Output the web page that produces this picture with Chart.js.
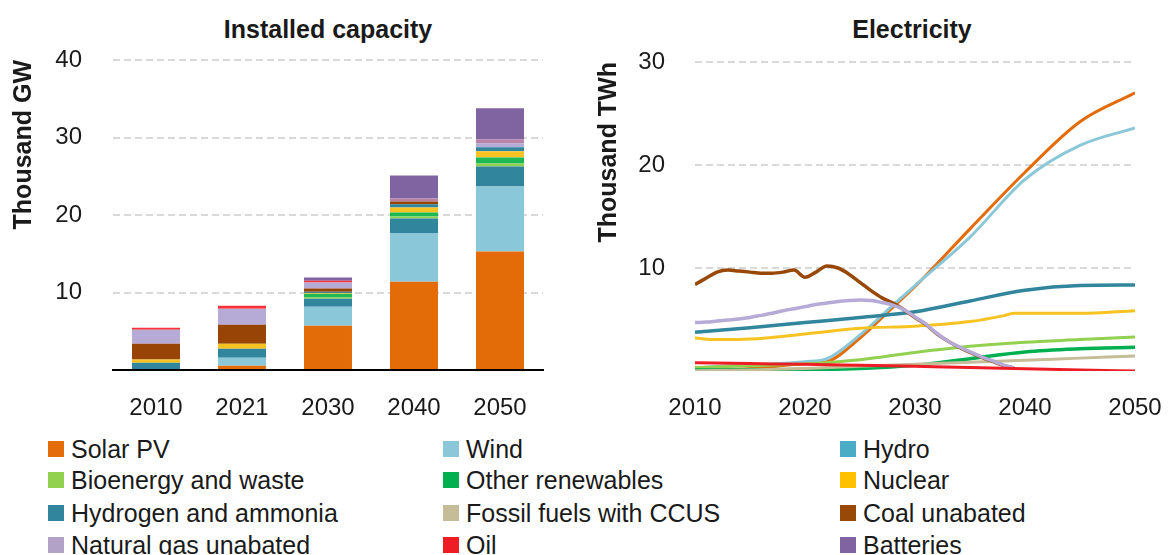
<!DOCTYPE html>
<html>
<head>
<meta charset="utf-8">
<script src="https://cdn.jsdelivr.net/npm/chart.js@4.4.1/dist/chart.umd.min.js"></script>
<style>
    body { margin: 0; width: 1168px; height: 555px; overflow: hidden; background: #fff; font-family: "Liberation Sans", Arial, sans-serif; color: #1a1a1a; }
    canvas { position: absolute; top: 0; }
    #capacityChart { left: 0; }
    #electricityChart { left: 580px; }
    .panel-title { position: absolute; top: 15px; font-weight: bold; font-size: 25px; transform: translateX(-50%); white-space: nowrap; }
    .legend-item { position: absolute; display: flex; align-items: center; font-size: 25px; white-space: nowrap; }
    .legend-item .swatch { width: 16px; height: 16px; margin-right: 7px; }
</style>
</head>
<body>
<div class="panel-title" style="left:328px">Installed capacity</div>
<div class="panel-title" style="left:912px">Electricity</div>
<canvas id="capacityChart" width="560" height="420"></canvas>
<canvas id="electricityChart" width="588" height="420"></canvas>
<div id="legend"></div>
<script>
"use strict";
// Installed capacity (thousand GW), stacked bottom to top
const capacityYears = ['2010', '2021', '2030', '2040', '2050'];
const capSolar = [0, 0.56, 5.72, 11.4, 15.3];
const capWind = [0, 1.03, 2.45, 6.2, 8.39];
const capHydro = [0.95, 1.16, 1.03, 1.94, 2.58];
const capBio = [0, 0, 0.17, 0.26, 0.39];
const capOtherRen = [0, 0, 0.43, 0.52, 0.77];
const capNuclear = [0.39, 0.65, 0.1, 0.65, 0.8];
const capHydrogen = [0, 0, 0.2, 0.43, 0.52];
const capCoal = [2.06, 2.45, 0.43, 0.34, 0];
const capGas = [1.8, 2.06, 0.77, 0, 0.52];
const capOtherFossil = [0, 0, 0, 0.39, 0.52];
const capOil = [0.26, 0.39, 0.22, 0, 0];
const capBatteries = [0, 0, 0.43, 2.97, 4.0];
const capacityTicks = [10, 20, 30, 40];

// Electricity generation (thousand TWh)
const yearsRenew = [2010, 2015, 2020, 2022, 2025, 2028, 2030, 2035, 2040, 2045, 2050];
const genSolar = [0.03, 0.25, 0.7, 0.9, 3.2, 6.2, 8.2, 13.8, 19.3, 24.2, 27.0];
const genWind = [0.3, 0.6, 0.9, 1.2, 3.5, 6.4, 8.3, 13.0, 18.6, 21.9, 23.6];
const yearsFive = [2010, 2015, 2020, 2025, 2030, 2035, 2040, 2045, 2050];
const genHydro = [3.75, 4.2, 4.7, 5.2, 5.75, 6.8, 7.85, 8.3, 8.35];
const genBio = [0.35, 0.5, 0.7, 1.1, 1.8, 2.4, 2.8, 3.05, 3.3];
const genOtherRen = [0.1, 0.12, 0.15, 0.25, 0.55, 1.2, 1.85, 2.15, 2.3];
const genCcus = [0.02, 0.1, 0.25, 0.45, 0.65, 0.85, 1.05, 1.25, 1.45];
const genOil = [0.8, 0.72, 0.65, 0.55, 0.45, 0.35, 0.22, 0.1, 0.0];
const yearsNuclear = [2010, 2012, 2015, 2020, 2025, 2030, 2035, 2038, 2039, 2045, 2050];
const genNuclear = [3.2, 3.05, 3.1, 3.6, 4.15, 4.35, 4.8, 5.35, 5.6, 5.6, 5.85];
const yearsFossil = [2010, 2011, 2012, 2013, 2014, 2015, 2016, 2017, 2018, 2019, 2020, 2021, 2022, 2023, 2024,
    2025, 2026, 2027, 2028, 2029, 2030, 2031, 2032, 2033, 2034, 2035, 2036, 2037, 2038, 2039];
const genCoal = [8.4, 9.0, 9.6, 9.8, 9.7, 9.6, 9.5, 9.5, 9.6, 9.8, 9.1, 9.6, 10.2, 10.0, 9.4,
    8.6, 7.8, 7.1, 6.6, 5.95, 5.2, 4.5, 3.6, 2.9, 2.3, 1.8, 1.35, 0.95, 0.55, 0.3];
const genGas = [4.7, 4.75, 4.85, 4.95, 5.05, 5.2, 5.4, 5.6, 5.85, 6.05, 6.25, 6.45, 6.6, 6.75, 6.85,
    6.9, 6.85, 6.65, 6.4, 5.95, 5.25, 4.55, 3.65, 2.9, 2.35, 1.85, 1.4, 1.0, 0.6, 0.3];
const electricityTicks = [10, 20, 30];

const legendItems = [
    ['Solar PV', '#e46c0a'], ['Wind', '#8bc7d9'], ['Hydro', '#4bacc6'],
    ['Bioenergy and waste', '#92d050'], ['Other renewables', '#00b050'], ['Nuclear', '#ffc000'],
    ['Hydrogen and ammonia', '#31859c'], ['Fossil fuels with CCUS', '#c4bd97'], ['Coal unabated', '#984807'],
    ['Natural gas unabated', '#b3a2c7'], ['Oil', '#ee1c25'], ['Batteries', '#8064a2']
];

const TEXT = '#1a1a1a';
const GRID = '#d9d9d9';

class EnergyCharts {
    constructor() {
        this.capacityChart = null;
        this.electricityChart = null;
    }
    init() {
        Chart.defaults.font.family = '"Liberation Sans", Arial, sans-serif';
        Chart.defaults.color = TEXT;
        this.renderCapacity();
        this.renderElectricity();
        this.renderLegend();
    }
    yGrid() {
        return {
            color: (ctx) => (ctx.tick && ctx.tick.value === 0 ? 'rgba(0,0,0,0)' : GRID),
            lineWidth: 2,
            drawTicks: false
        };
    }
    renderCapacity() {
        const series = [
            ['Solar PV', capSolar, '#e36c09'],
            ['Wind', capWind, '#8ac8d9'],
            ['Hydro', capHydro, '#31859c'],
            ['Bioenergy and waste', capBio, '#92d050'],
            ['Other renewables', capOtherRen, '#1db954'],
            ['Nuclear', capNuclear, '#f6c323'],
            ['Hydrogen and ammonia', capHydrogen, '#31859c'],
            ['Coal unabated', capCoal, '#994407'],
            ['Natural gas unabated', capGas, '#b6aad6'],
            ['Other fossil', capOtherFossil, '#b784a7'],
            ['Oil', capOil, '#fb3338'],
            ['Batteries', capBatteries, '#8064a2']
        ];
        const ctx = document.getElementById('capacityChart');
        this.capacityChart = new Chart(ctx, {
            type: 'bar',
            data: {
                labels: capacityYears,
                datasets: series.map(([label, data, color]) => ({
                    label,
                    data,
                    backgroundColor: color,
                    borderWidth: 0,
                    barPercentage: 1,
                    categoryPercentage: 0.558
                }))
            },
            options: {
                responsive: false,
                animation: false,
                devicePixelRatio: 1,
                layout: { padding: { top: 60, right: 17, left: 0, bottom: 0 } },
                plugins: { legend: { display: false }, tooltip: { enabled: false } },
                scales: {
                    x: {
                        stacked: true,
                        grid: { display: false },
                        border: { display: true, color: '#000', width: 2 },
                        ticks: { padding: 16, font: { size: 24 }, color: TEXT },
                        afterFit: (scale) => { scale.height = 50; }
                    },
                    y: {
                        stacked: true,
                        min: 0,
                        max: 40,
                        afterBuildTicks: (scale) => {
                            scale.ticks = [0].concat(capacityTicks).map((v) => ({ value: v }));
                        },
                        grid: this.yGrid(),
                        border: { display: false, dash: [7, 4] },
                        ticks: {
                            padding: 31,
                            font: { size: 24 },
                            color: TEXT,
                            callback: (v) => (v === 0 ? '' : v)
                        },
                        title: {
                            display: true,
                            text: 'Thousand GW',
                            align: 'end',
                            color: TEXT,
                            font: { size: 25, weight: 'bold' },
                            padding: { top: 9, bottom: 0 }
                        },
                        afterFit: (scale) => { scale.width = 113; }
                    }
                }
            }
        });
    }
    renderElectricity() {
        const toPoints = (years, values) => years.map((x, i) => ({ x, y: values[i] }));
        const series = [
            ['Solar PV', yearsRenew, genSolar, '#e36c09', 3],
            ['Wind', yearsRenew, genWind, '#8ac8d9', 3],
            ['Hydro', yearsFive, genHydro, '#31859c', 3.5],
            ['Bioenergy and waste', yearsFive, genBio, '#92d050', 3],
            ['Other renewables', yearsFive, genOtherRen, '#00b050', 3.5],
            ['Nuclear', yearsNuclear, genNuclear, '#f6c323', 3],
            ['Fossil fuels with CCUS', yearsFive, genCcus, '#c4bd97', 3],
            ['Coal unabated', yearsFossil, genCoal, '#984807', 3.5],
            ['Natural gas unabated', yearsFossil, genGas, '#b6aad6', 3.5],
            ['Oil', yearsFive, genOil, '#ee1c25', 3]
        ];
        const ctx = document.getElementById('electricityChart');
        this.electricityChart = new Chart(ctx, {
            type: 'line',
            data: {
                datasets: series.map(([label, years, values, color, width], i) => ({
                    label,
                    data: toPoints(years, values),
                    borderColor: color,
                    backgroundColor: color,
                    borderWidth: width,
                    pointRadius: 0,
                    fill: false,
                    cubicInterpolationMode: 'monotone',
                    order: series.length - i
                }))
            },
            options: {
                responsive: false,
                animation: false,
                devicePixelRatio: 1,
                layout: { padding: { top: 62, right: 33, left: 0, bottom: 0 } },
                plugins: { legend: { display: false }, tooltip: { enabled: false } },
                scales: {
                    x: {
                        type: 'linear',
                        min: 2010,
                        max: 2050,
                        grid: { display: false },
                        border: { display: false },
                        ticks: { stepSize: 10, padding: 15, font: { size: 24 }, color: TEXT, callback: (v) => String(v) },
                        afterFit: (scale) => {
                            scale.height = 49;
                            scale.paddingLeft = 0;
                            scale.paddingRight = 0;
                        }
                    },
                    y: {
                        min: 0,
                        max: 30,
                        afterBuildTicks: (scale) => {
                            scale.ticks = [0].concat(electricityTicks).map((v) => ({ value: v }));
                        },
                        grid: this.yGrid(),
                        border: { display: false, dash: [7, 4] },
                        ticks: {
                            padding: 30,
                            font: { size: 24 },
                            color: TEXT,
                            callback: (v) => (v === 0 ? '' : v)
                        },
                        title: {
                            display: true,
                            text: 'Thousand TWh',
                            align: 'end',
                            color: TEXT,
                            font: { size: 25, weight: 'bold' },
                            padding: { top: 14, bottom: 0 }
                        },
                        afterFit: (scale) => { scale.width = 115; }
                    }
                }
            }
        });
    }
    renderLegend() {
        const host = document.getElementById('legend');
        const columns = [48, 443, 840];
        const rows = [441, 472, 505, 537];
        legendItems.forEach(([label, color], i) => {
            const item = document.createElement('div');
            item.className = 'legend-item';
            item.style.left = columns[i % 3] + 'px';
            item.style.top = (rows[Math.floor(i / 3)] - 6) + 'px';
            item.style.height = '28px';
            item.innerHTML = `<span class="swatch" style="background:${color}"></span><span>${label}</span>`;
            host.appendChild(item);
        });
    }
}

document.addEventListener('DOMContentLoaded', () => {
    const charts = new EnergyCharts();
    window.energyCharts = charts;
    charts.init();
});
</script>
</body>
</html>
